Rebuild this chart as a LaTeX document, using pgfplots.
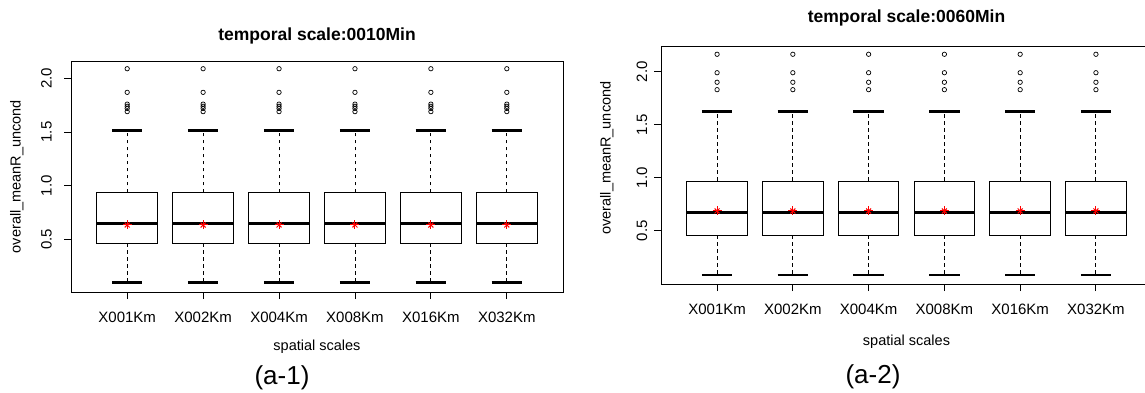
\documentclass[border=0pt]{standalone}
\usepackage{pgfplots}
\pgfplotsset{compat=1.18}
\usepgfplotslibrary{statistics}
\usepackage{fontspec}
\setmainfont{Liberation Sans}
\pgfplotsset{
  rframe/.style={
    scale only axis, anchor=south west,
    xmin=0.26, xmax=6.74,
    xtick={1,2,3,4,5,6},
    xticklabels={X001Km,X002Km,X004Km,X008Km,X016Km,X032Km},
    ytick={0.5,1,1.5,2},
    /pgf/number format/assume math mode=true,
    tick align=outside, major tick length=7pt,
    xtick pos=bottom, ytick pos=left,
    axis line style={line width=0.9pt},
    every tick/.style={black, line width=0.9pt},
    tick label style={font=\fontsize{15}{18}\selectfont},
    xticklabel style={anchor=center},
    xticklabel shift=18pt,
    yticklabel style={rotate=90, anchor=south, /pgf/number format/fixed, /pgf/number format/fixed zerofill, /pgf/number format/precision=1},
    label style={font=\fontsize{14.5}{17}\selectfont},
    title style={font=\bfseries\fontsize{17.5}{21}\selectfont, anchor=center, yshift=0pt},
    ylabel={overall\_meanR\_uncond},
    xlabel={spatial scales},
  },
  rbox/.style={
    black, solid, line width=0.9pt,
    mark=o, mark size=2.2pt, mark options={solid, line width=0.7pt, black},
    boxplot/draw direction=y,
    boxplot/box extend=0.8,
    boxplot/whisker extend=0.4,
    boxplot/every median/.style={line width=3pt},
    boxplot/draw/lower whisker/.code={%
      \draw[line width=0.9pt, dash pattern=on 3.5pt off 3.5pt]
        (boxplot box cs:\pgfplotsboxplotvalue{lower quartile},0.5) --
        (boxplot box cs:\pgfplotsboxplotvalue{lower whisker},0.5);
      \draw[line width=2.7pt]
        (boxplot whisker cs:\pgfplotsboxplotvalue{lower whisker},0) --
        (boxplot whisker cs:\pgfplotsboxplotvalue{lower whisker},1);
    },
    boxplot/draw/upper whisker/.code={%
      \draw[line width=0.9pt, dash pattern=on 3.5pt off 3.5pt]
        (boxplot box cs:\pgfplotsboxplotvalue{upper quartile},0.5) --
        (boxplot box cs:\pgfplotsboxplotvalue{upper whisker},0.5);
      \draw[line width=2.7pt]
        (boxplot whisker cs:\pgfplotsboxplotvalue{upper whisker},0) --
        (boxplot whisker cs:\pgfplotsboxplotvalue{upper whisker},1);
    },
  },
}
\begin{document}
\begin{tikzpicture}
\path[use as bounding box] (0pt,0pt) rectangle (1145pt,392pt);

% ---------- left panel ----------
\begin{axis}[rframe,
  at={(71pt,100pt)}, width=492pt, height=231pt,
  ymin=0.009, ymax=2.162,
  yticklabel style={inner sep=12pt},
  title={temporal scale:0010Min},
  title style={at={([yshift=19.5pt]axis description cs:0.5,1)}},
  xlabel style={at={([yshift=-54.5pt]axis description cs:0.5,0)}, anchor=center},
  ylabel style={at={([xshift=-54.3pt]axis description cs:0,0.5)}, anchor=center},
]
\pgfplotsinvokeforeach{1,...,6}{
\addplot[rbox, boxplot prepared={draw position=#1,
  lower whisker=0.100, lower quartile=0.463, median=0.646,
  upper quartile=0.938, upper whisker=1.512}]
  table[row sep=\\, y index=0] {v\\ 2.09\\ 1.87\\ 1.76\\ 1.74\\ 1.72\\ 1.69\\};
}
\addplot[only marks, red, mark=+, mark size=4.5pt, line width=1pt]
  coordinates {(1,0.634) (2,0.634) (3,0.634) (4,0.634) (5,0.634) (6,0.634)};
\addplot[only marks, red, mark=x, mark size=3.5pt, line width=1pt]
  coordinates {(1,0.634) (2,0.634) (3,0.634) (4,0.634) (5,0.634) (6,0.634)};
\end{axis}

% ---------- right panel ----------
\begin{axis}[rframe,
  at={(661pt,108pt)}, width=491pt, height=238pt,
  ymin=-0.003, ymax=2.242,
  yticklabel style={inner sep=6.5pt},
  title={temporal scale:0060Min},
  title style={at={([yshift=22.3pt]axis description cs:0.5,1)}},
  xlabel style={at={([yshift=-57.5pt]axis description cs:0.5,0)}, anchor=center},
  ylabel style={at={([xshift=-54.3pt]axis description cs:0,0.529)}, anchor=center},
]
\pgfplotsinvokeforeach{1,...,6}{
\addplot[rbox, boxplot prepared={draw position=#1,
  lower whisker=0.082, lower quartile=0.456, median=0.676,
  upper quartile=0.969, upper whisker=1.623}]
  table[row sep=\\, y index=0] {v\\ 2.164\\ 1.99\\ 1.90\\ 1.83\\};
}
\addplot[only marks, red, mark=+, mark size=4.5pt, line width=1pt]
  coordinates {(1,0.686) (2,0.686) (3,0.686) (4,0.686) (5,0.686) (6,0.686)};
\addplot[only marks, red, mark=x, mark size=3.5pt, line width=1pt]
  coordinates {(1,0.686) (2,0.686) (3,0.686) (4,0.686) (5,0.686) (6,0.686)};
\end{axis}

\node[font=\fontsize{26}{30}\selectfont] at (282pt,14pt) {(a-1)};
\node[font=\fontsize{26}{30}\selectfont] at (873pt,15pt) {(a-2)};
\end{tikzpicture}
\end{document}
